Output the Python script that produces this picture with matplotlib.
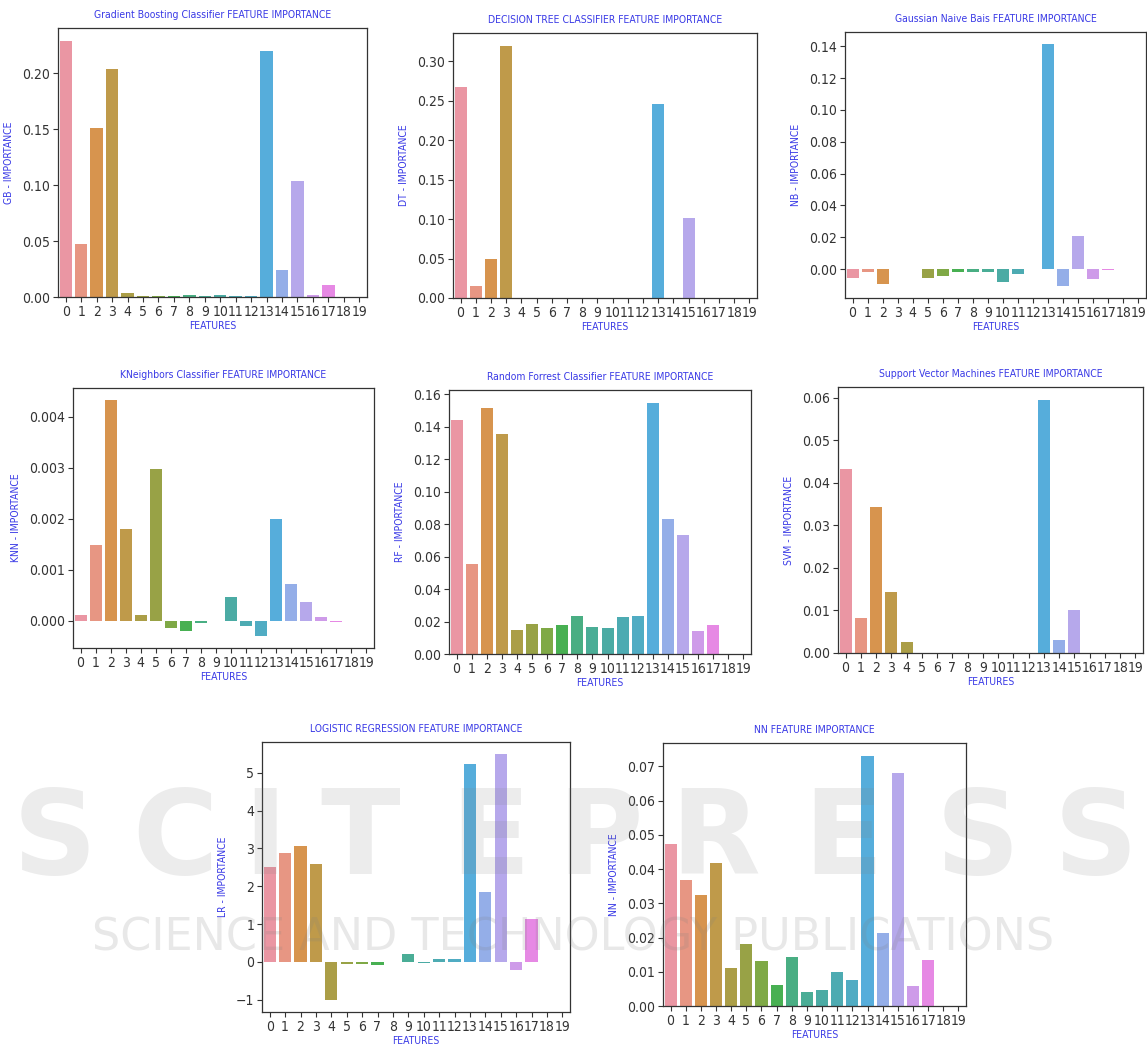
import os
import matplotlib
matplotlib.use("Agg")
import matplotlib.pyplot as plt
from matplotlib import font_manager
import numpy as np
import seaborn as sns

W, H = 1147, 1050

FEATURES = list(range(20))

GB = [0.229, 0.047, 0.151, 0.204, 0.004, 0.001, 0.001, 0.001, 0.002, 0.001,
      0.002, 0.001, 0.001, 0.220, 0.024, 0.104, 0.002, 0.011, 0.0, 0.0]
DT = [0.268, 0.015, 0.050, 0.320, 0.0, 0.0, 0.0, 0.0, 0.0, 0.0,
      0.0, 0.0, 0.0, 0.246, 0.0, 0.101, 0.0, 0.0, 0.0, 0.0]
NB = [-0.0057, -0.0020, -0.0095, 0.0, 0.0, -0.0057, -0.0044, -0.0017, -0.0017, -0.0017,
      -0.0078, -0.0032, 0.0, 0.1413, -0.0105, 0.0210, -0.0061, -0.0005, 0.0, 0.0]
KNN = [0.00012, 0.00149, 0.00433, 0.00179, 0.00012, 0.00297, -0.00014, -0.00020, -0.00004, 0.0,
       0.00046, -0.00010, -0.00030, 0.00199, 0.00072, 0.00036, 0.00007, -0.00003, 0.0, 0.0]
RF = [0.1444, 0.0556, 0.1514, 0.1358, 0.0150, 0.0185, 0.0158, 0.0176, 0.0236, 0.0168,
      0.0158, 0.0226, 0.0236, 0.1549, 0.0829, 0.0734, 0.0144, 0.0176, 0.0, 0.0]
SVM = [0.0433, 0.0082, 0.0343, 0.0143, 0.0026, 0.0, 0.0, 0.0, 0.0, 0.0,
       0.0, 0.0, 0.0, 0.0595, 0.0031, 0.0101, 0.0, 0.0, 0.0, 0.0]
LR = [2.51, 2.89, 3.06, 2.60, -1.00, -0.05, -0.05, -0.08, 0.0, 0.20,
      -0.03, 0.07, 0.07, 5.24, 1.84, 5.49, -0.22, 1.14, 0.0, 0.0]
NN = [0.0474, 0.0369, 0.0324, 0.0417, 0.0111, 0.0180, 0.0131, 0.0062, 0.0144, 0.0041,
      0.0046, 0.0099, 0.0077, 0.0732, 0.0214, 0.0681, 0.0058, 0.0134, 0.0, 0.0]

# (title, ylabel, values, pixel box x0, y0, x1, y1)
PANELS = [
    ("Gradient Boosting Classifier FEATURE IMPORTANCE", "GB - IMPORTANCE", GB, (58, 28, 367, 297)),
    ("DECISION TREE CLASSIFIER FEATURE IMPORTANCE", "DT - IMPORTANCE", DT, (453, 33, 757, 298)),
    ("Gaussian Naive Bais FEATURE IMPORTANCE", "NB - IMPORTANCE", NB, (845, 32, 1146, 298)),
    ("KNeighbors Classifier FEATURE IMPORTANCE", "KNN - IMPORTANCE", KNN, (73, 388, 374, 648)),
    ("Random Forrest Classifier FEATURE IMPORTANCE", "RF - IMPORTANCE", RF, (449, 390, 751, 654)),
    ("Support Vector Machines FEATURE IMPORTANCE", "SVM - IMPORTANCE", SVM, (838, 387, 1143, 653)),
    ("LOGISTIC REGRESSION FEATURE IMPORTANCE", "LR - IMPORTANCE", LR, (262, 742, 570, 1012)),
    ("NN FEATURE IMPORTANCE", "NN - IMPORTANCE", NN, (663, 743, 966, 1006)),
]


def pick_narrow_font():
    # look for any condensed / narrow sans face that happens to be installed
    best = None
    for f in font_manager.fontManager.ttflist:
        tag = (f.name + " " + os.path.basename(f.fname)).lower()
        if "serif" in tag or "mono" in tag or f.style != "normal":
            continue
        if f.weight not in (400, "normal", "regular", "book"):
            continue
        narrow = ("narrow" in tag or "condensed" in tag
                  or f.stretch in ("condensed", "semi-condensed"))
        if narrow:
            if best is None or "dejavu" in tag or "liberation" in tag:
                best = f
    return best


narrow = pick_narrow_font()
if narrow is not None:
    plt.rcParams["font.family"] = [narrow.name, "DejaVu Sans"]
    if narrow.stretch in ("condensed", "semi-condensed"):
        plt.rcParams["font.stretch"] = narrow.stretch
    TICK_SIZE, TITLE_SIZE, LABEL_SIZE = 10, 7.5, 7.5
else:
    plt.rcParams["font.family"] = ["Roboto", "DejaVu Sans"]
    TICK_SIZE, TITLE_SIZE, LABEL_SIZE = 8.8, 6.8, 6.8

TEXT_BLUE = "#3a3ae6"
DARK = "#333333"

# seaborn's old barplot default for >10 categories: husl l=.7, desaturated
COLORS = [sns.desaturate(c, 0.75) for c in sns.husl_palette(20, l=.7)]

fig = plt.figure(figsize=(W / 100, H / 100), dpi=100, facecolor="white")

for title, ylabel, vals, (x0, y0, x1, y1) in PANELS:
    ax = fig.add_axes([x0 / W, 1 - y1 / H, (x1 - x0) / W, (y1 - y0) / H])
    ax.bar(FEATURES, vals, width=0.8, color=COLORS)
    ax.set_xlim(-0.5, 19.5)
    ax.set_xticks(FEATURES)
    ax.set_xticklabels([str(f) for f in FEATURES])
    ax.set_title(title, fontsize=TITLE_SIZE, color=TEXT_BLUE, pad=7)
    ax.set_ylabel(ylabel, fontsize=LABEL_SIZE, color=TEXT_BLUE, labelpad=6)
    ax.set_xlabel("FEATURES", fontsize=LABEL_SIZE, color=TEXT_BLUE, labelpad=2)
    ax.tick_params(labelsize=TICK_SIZE, colors=DARK, length=3.5, width=0.8, pad=2)
    for sp in ax.spines.values():
        sp.set_color(DARK)
        sp.set_linewidth(0.9)

# faint publisher watermark drawn over the panels
wm_x = [55, 175, 265, 360, 490, 600, 715, 843, 978, 1096]
for ch, x in zip("SCITEPRESS", wm_x):
    fig.text(x / W, 1 - 841 / H, ch, fontsize=84, color="#808080", alpha=0.15,
             ha="center", va="center", family="DejaVu Sans", stretch="normal",
             weight="bold", zorder=10)
fig.text(0.5, 1 - 938 / H, "SCIENCE AND TECHNOLOGY PUBLICATIONS", fontsize=32,
         color="#808080", alpha=0.18, ha="center", va="center",
         family="DejaVu Sans", stretch="normal", zorder=10)

fig.savefig("out.png", dpi=100, facecolor="white")
